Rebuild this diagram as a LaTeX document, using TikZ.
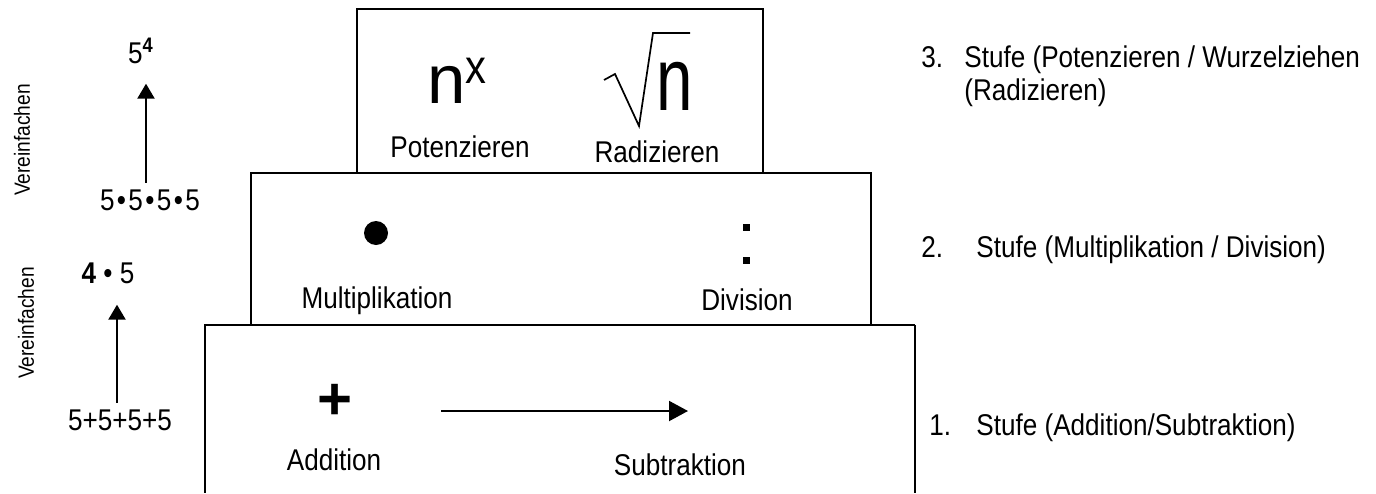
\documentclass[tikz,border=0pt]{standalone}
\usepackage{fontspec}
\setmainfont{Liberation Sans}[FakeStretch=0.87]
\newfontfamily\bigfont{Liberation Sans}
\usetikzlibrary{arrows.meta,calc}

\begin{document}
\begin{tikzpicture}[x=0.5pt, y=-0.5pt,
  stufe/.style={draw, line width=1pt},
  beschr/.style={font=\fontsize{15}{18}\selectfont, inner sep=0pt, anchor=base},
  rechts/.style={font=\fontsize{15}{18}\selectfont, inner sep=0pt, anchor=base west},
  dreh/.style={font=\fontsize{11}{13}\selectfont, inner sep=0pt, rotate=90},
  pfeil/.style={line width=1.2pt, -{Triangle[length=7.5pt,width=8.5pt]}},
]
\useasboundingbox (0,0) rectangle (1376,493);

% --- 3. Stufe: Potenzieren / Radizieren ---
\draw[stufe] (357,9) rectangle (763,173);
\node[font=\bigfont\fontsize{34.5}{40}\selectfont, inner sep=0pt, anchor=base] (pn) at (447,103) {n};
\node[font=\fontsize{24}{28}\selectfont, inner sep=0pt, anchor=base west] (px) at (465,83) {x};
\node[beschr] (pot) at (460,157) {Potenzieren};
\draw[line width=0.85pt] (604,80) -- (615,74) -- (639,126) -- (653,33) -- (690,33);
\node[font=\bigfont\fontsize{34.5}{40}\selectfont, inner sep=0pt, anchor=base] (rn) at (675,110)
    {\scalebox{0.95}[1.3]{n}};
\node[beschr] (rad) at (657,162) {Radizieren};

% --- 2. Stufe: Multiplikation / Division ---
\draw[stufe] (251,325) -- (251,173) -- (871,173) -- (871,325);
\node[circle, fill, inner sep=0pt, minimum size=12pt] (punkt) at (376,233) {};
\node[beschr] (mult) at (377,308) {Multiplikation};
\fill (742.5,223.5) rectangle ++(7,7);
\fill (742.5,256.5) rectangle ++(7,7);
\node[beschr] (div) at (747,310) {Division};

% --- 1. Stufe: Addition / Subtraktion ---
\draw[stufe] (627,325) -- (205,325) -- (205,493);
\draw[line width=0.6pt] (627,325) -- (915,325);
\draw[stufe] (915,325) -- (915,493);
\node[font=\bigfont\bfseries\fontsize{30}{36}\selectfont, inner sep=0pt, anchor=base] (plus) at (335,419) {+};
\coordinate (pa) at (441,411);
\coordinate (pb) at (688,411);
\draw[line width=1pt, -{Triangle[length=9.5pt,width=10pt]}] (pa) -- (pb);
\node[beschr] (add) at (334,470) {Addition};
\node[beschr] (sub) at (680,475) {Subtraktion};

% Stufen rechts
\node[rechts] (n3) at (921,67) {3.};
\node[rechts] (s3) at (964,67) {Stufe (Potenzieren / Wurzelziehen};
\node[rechts] (s3b) at (964,100) {(Radizieren)};
\node[rechts] (n2) at (921,257) {2.};
\node[rechts] (s2) at (976,257) {Stufe (Multiplikation / Division)};
\node[rechts] (n1) at (929,435) {1.};
\node[rechts] (s1) at (976,435) {Stufe (Addition/Subtraktion)};

% Vereinfachen links
\node[dreh] (v1) at (22,140) {Vereinfachen};
\node[dreh] (v2) at (26,323) {Vereinfachen};
\node[beschr] (hoch) at (141,63) {5\textsuperscript{\textbf{4}}};
\node[beschr] (mal) at (150,210)
    {5\kern1.2pt\textbullet\kern1.2pt5\kern1.2pt\textbullet\kern1.2pt5\kern1.2pt\textbullet\kern1.2pt5};
\node[beschr] (vier) at (108,283) {\textbf{4} \textbullet\ 5};
\node[beschr] (summe) at (120,430) {5+5+5+5};
\draw[pfeil, shorten >=10pt] ($(mal.north)+(-4,-6)$) -- ($(mal.north |- hoch.south)+(-4,0)$);
\draw[pfeil, shorten >=10.5pt] ($(summe.north)+(-3,-6)$) -- ($(summe.north |- vier.south)+(-3,0)$);
\end{tikzpicture}
\end{document}
